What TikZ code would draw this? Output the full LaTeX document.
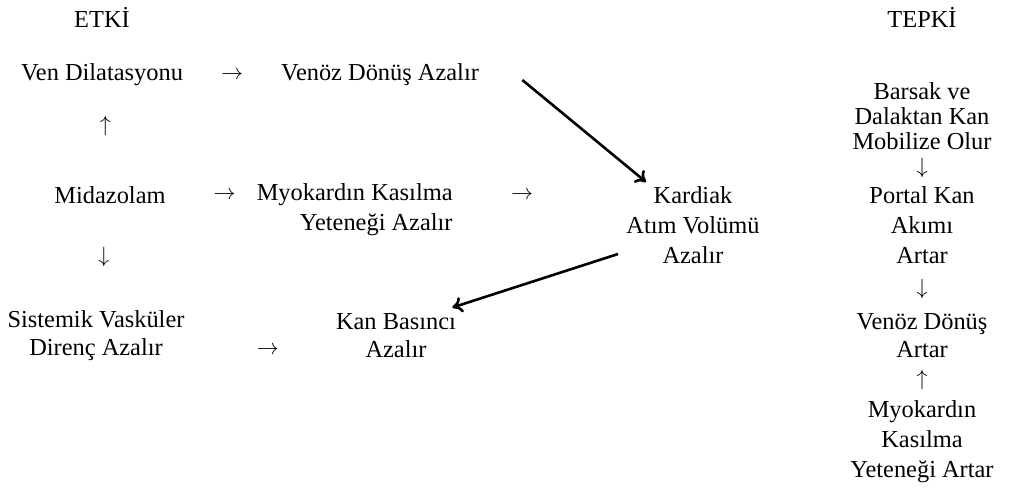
\documentclass[tikz,border=0pt]{standalone}
\usepackage{fontspec}
\usepackage{fix-cm}
\setmainfont{Liberation Serif}
\usetikzlibrary{arrows.meta}

\tikzset{
  txt/.style={inner sep=0pt, align=center, font=\fontsize{12.2}{13.2}\selectfont},
  tight/.style={font=\fontsize{12.2}{12.5}\selectfont},
  mid/.style={font=\fontsize{12.2}{14}\selectfont},
  wide/.style={font=\fontsize{12.2}{15}\selectfont},
  glyph/.style={inner sep=0pt, font=\fontsize{11}{12}\selectfont},
  diag/.style={line width=1.3pt, -{To[length=5pt,width=8pt]}}
}

\begin{document}
\begin{tikzpicture}[x=0.5pt,y=-0.5pt]
    \useasboundingbox (0,0) rectangle (1011,495);
    % headings
    \node[txt] (etki) at (102,17) {ETKİ};
    \node[txt] (tepki) at (922,17) {TEPKİ};
    % etki side
    \node[txt] (vendil) at (102,75) {Ven Dilatasyonu};
    \node[txt] (venoz) at (380,75) {Venöz Dönüş Azalır};
    \node[txt] (midaz) at (110,195) {Midazolam};
    \node[txt,wide,align=right,anchor=east] (myok) at (453,210) {Myokardın Kasılma\\Yeteneği Azalır};
    \node[txt,wide] (kardiak) at (693,225) {Kardiak\\Atım Volümü\\Azalır};
    \node[txt,mid] (sist) at (96,336) {Sistemik Vasküler\\Direnç Azalır};
    \node[txt,mid] (kanbas) at (396,336) {Kan Basıncı\\Azalır};
    % tepki side
    \node[txt,tight] (barsak) at (922,116) {Barsak ve\\Dalaktan Kan\\Mobilize Olur};
    \node[txt,wide] (portal) at (922,225) {Portal Kan\\Akımı\\Artar};
    \node[txt,mid] (venart) at (922,336) {Venöz Dönüş\\Artar};
    \node[txt,wide] (myokart) at (922,442) {Myokardın\\Kasılma\\Yeteneği Artar};

    % arrows set as text
    \path (vendil) -- node[glyph]{$\rightarrow$} (venoz);
    \path (midaz) -- node[glyph,pos=0.6]{$\uparrow$} (vendil);
    \path (midaz) -- node[glyph]{$\downarrow$} (sist);
    \path (midaz.east) -- node[glyph,pos=0.65]{$\rightarrow$} (midaz.east -| myok.west);
    \path (midaz.east -| myok.east) -- node[glyph,pos=0.4]{$\rightarrow$} (midaz.east -| kardiak.west);
    \path ([yshift=-7pt]sist.east) -- node[glyph,pos=0.55]{$\rightarrow$} ([yshift=-7pt]sist.east -| kanbas.west);
    \path (barsak) -- node[glyph]{$\downarrow$} (portal);
    \path (portal) -- node[glyph]{$\downarrow$} (venart);
    \path (myokart) -- node[glyph]{$\uparrow$} (venart);

    % drawn arrows
    \draw[diag] ([xshift=21.5pt,yshift=-2.5pt]venoz.east) -- ([xshift=10pt,yshift=2pt]kardiak.north west);
    \draw[diag] ([xshift=-4pt,yshift=5pt]kardiak.south west) -- ([xshift=-2pt,yshift=3pt]kanbas.north east);
\end{tikzpicture}
\end{document}
